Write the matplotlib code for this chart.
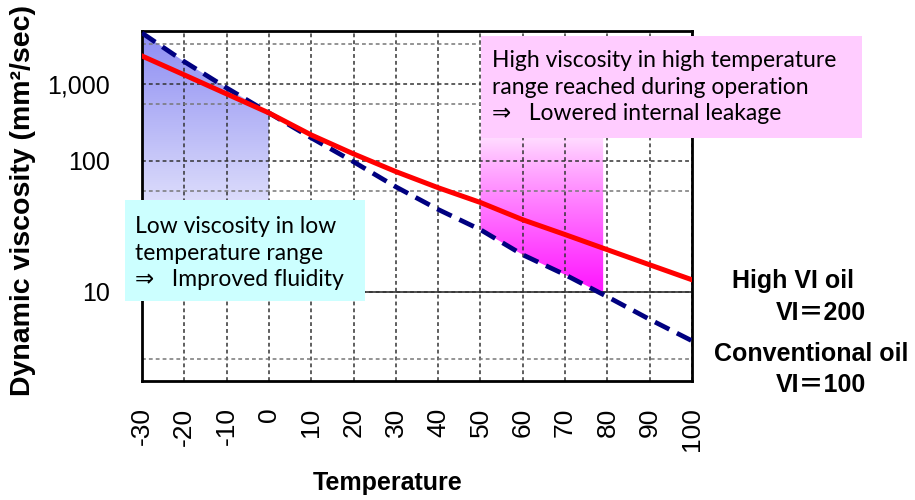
import numpy as np
import matplotlib
matplotlib.use("Agg")
import matplotlib.pyplot as plt
from matplotlib.patches import Polygon, Rectangle

# values (temperature in deg C, viscosity in mm2/sec)
temps = [-30, -20, -10, 0, 10, 20, 30, 40, 50, 60, 70, 80, 90, 100]
high_vi = [3000, 1400, 700, 374, 195, 118, 77, 54, 40, 29, 22.5, 17.7, 14.2, 11.6]
conventional = [8430, 2370, 865, 374, 180, 97, 55, 35, 24.4, 16.4, 12.4, 9.4, 7.3, 5.9]

x_labels = ["-30", "-20", "-10", "0", "10", "20", "30", "40", "50", "60", "70", "80", "90", "100"]
y_major = [10, 100, 1000]
y_labels = ["10", "100", "1,000"]
y_minor = [5, 50, 500, 5000]

low_range = (-30, 0)
high_range = (50, 79)

low_text = "Low viscosity in low\ntemperature range\n\u21d2   Improved fluidity"
high_text = ("High viscosity in high temperature\nrange reached during operation\n"
             "\u21d2   Lowered internal leakage")

body_font = ["Lato", "DejaVu Sans"]
arial = ["Liberation Sans", "Noto Sans CJK JP", "DejaVu Sans"]


def fwd(v):
    v = np.maximum(np.asarray(v, dtype=float), 1.0001)
    return np.log10(np.log10(v))


def inv(y):
    return 10 ** (10 ** np.asarray(y, dtype=float))


fig = plt.figure(figsize=(9.15, 5.0), dpi=100)
ax = fig.add_axes([0.1552, 0.238, 0.6011, 0.70])
ax.set_yscale("function", functions=(fwd, inv))
ax.set_xlim(-30, 100)
ax.set_ylim(4.2, 9300)

t = np.array(temps, dtype=float)
conv = np.array(conventional, dtype=float)
ybot, ytop = ax.get_ylim()

# gradient shading (clipped to the region above/below the conventional curve)
frac = np.linspace(0, 1, 400)[:, None]

tb = np.clip((frac - 0.3) / 0.7, 0, 1)
top_blue = np.array([0.55, 0.55, 0.95])
blue = np.ones((400, 1, 4))
blue[..., :3] = (1 - tb[..., None]) + tb[..., None] * top_blue
m = (t >= low_range[0]) & (t <= low_range[1])
verts = [(low_range[0], ybot)] + list(zip(t[m], conv[m])) + [(low_range[1], ybot)]
im = ax.imshow(blue, extent=[0, 1, 0, 1], transform=ax.transAxes, aspect="auto",
               origin="lower", zorder=0.5, interpolation="bilinear")
im.set_clip_path(Polygon(verts, closed=True, transform=ax.transData))

tm = np.clip((0.74 - frac) / 0.46, 0, 1) ** 0.8
mag_col = np.array([1.0, 0.12, 1.0])
mag = np.ones((400, 1, 4))
mag[..., :3] = (1 - tm[..., None]) + tm[..., None] * mag_col
hv = np.interp(high_range[1], t, conv)
m = (t >= high_range[0]) & (t <= high_range[1])
verts = ([(high_range[0], ytop)] + list(zip(t[m], conv[m]))
         + [(high_range[1], hv), (high_range[1], ytop)])
im2 = ax.imshow(mag, extent=[0, 1, 0, 1], transform=ax.transAxes, aspect="auto",
                origin="lower", zorder=0.5, interpolation="bilinear")
im2.set_clip_path(Polygon(verts, closed=True, transform=ax.transData))

ax.set_xlim(-30, 100)
ax.set_ylim(4.2, 9300)

# lines (red drawn over the dashed one where they overlap)
ax.plot(temps, conventional, color="#000080", lw=3.4, dashes=(3.4, 1.8), zorder=3)
ax.plot(temps, high_vi, color="#ff0000", lw=3.6, zorder=4)

# ticks and grid
ax.set_xticks(temps)
ax.set_xticklabels(x_labels, rotation=90, fontsize=19, family=arial)
ax.set_yticks(y_major)
ax.set_yticklabels(y_labels, fontsize=18, family=arial)
ax.set_yticks(y_minor, minor=True)
ax.yaxis.set_minor_formatter(plt.NullFormatter())
ax.tick_params(which="both", length=0)
ax.tick_params(axis="y", pad=23)
ax.tick_params(axis="x", pad=19)

ax.grid(axis="x", color="#333333", linestyle=(0, (2.5, 2)), lw=1.1)
ax.grid(axis="y", which="major", color="#333333", linestyle=(0, (2.5, 2)), lw=1.1)
ax.grid(axis="y", which="minor", color="#777777", linestyle=(0, (2.5, 2)), lw=1.1)
ax.axhline(10, color="#333333", lw=1.2, zorder=1)

for s in ax.spines.values():
    s.set_linewidth(2)
    s.set_color("black")

# annotation boxes
fig.patches.append(Rectangle((0.1366, 0.398), 0.2623, 0.202, transform=fig.transFigure,
                             facecolor="#ccffff", edgecolor="none", zorder=5))
fig.text(0.1475, 0.494, low_text, fontsize=16.5, family=body_font, va="center",
         ha="left", linespacing=1.3, zorder=6)
fig.patches.append(Rectangle((0.5257, 0.724), 0.4164, 0.204, transform=fig.transFigure,
                             facecolor="#ffccff", edgecolor="none", zorder=5))
fig.text(0.5377, 0.826, high_text, fontsize=16.5, family=body_font, va="center",
         ha="left", linespacing=1.3, zorder=6)

# series labels on the right
fig.text(0.800, 0.438, "High VI oil", fontsize=18, weight="bold", family=arial, va="center")
fig.text(0.848, 0.374, "VI\uff1d200", fontsize=18, weight="bold", family=arial, va="center")
fig.text(0.780, 0.292, "Conventional oil", fontsize=18, weight="bold", family=arial, va="center")
fig.text(0.848, 0.230, "VI\uff1d100", fontsize=18, weight="bold", family=arial, va="center")

# axis titles
fig.text(0.025, 0.60, "Dynamic viscosity (mm\u00b2/sec)", rotation=90, fontsize=20.5,
         weight="bold", family=arial, ha="center", va="center")
fig.text(0.424, 0.034, "Temperature", fontsize=18, weight="bold", family=arial,
         ha="center", va="center")

fig.savefig("out.png", dpi=100)
